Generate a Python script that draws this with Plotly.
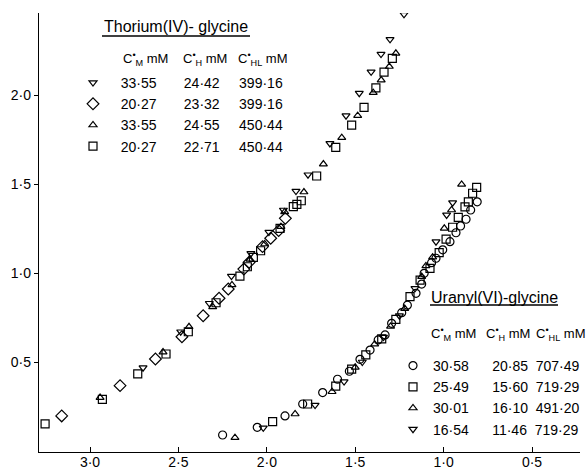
import plotly.graph_objects as go

W, H = 587, 471
ML, MR, MT, MB = 39, 7, 13, 19

# ---------------- data ----------------
# Thorium(IV)-glycine
th_tdown_x = [2.70, 2.487, 2.325, 2.20, 2.09, 1.988, 1.906, 1.835, 1.767, 1.643, 1.552, 1.477, 1.41, 1.354, 1.303, 1.224]
th_tdown_y = [0.468, 0.67, 0.83, 0.983, 1.11, 1.23, 1.354, 1.46, 1.552, 1.728, 1.884, 2.01, 2.13, 2.23, 2.313, 2.453]
th_diam_x = [3.16, 2.83, 2.63, 2.48, 2.36, 2.27, 2.218, 2.13, 2.10, 2.024, 1.978, 1.933, 1.895]
th_diam_y = [0.197, 0.367, 0.517, 0.642, 0.76, 0.858, 0.91, 1.022, 1.06, 1.148, 1.195, 1.238, 1.307]
th_tup_x = [2.943, 2.587, 2.44, 2.306, 2.197, 2.095, 2.012, 1.92, 1.899, 1.79, 1.68, 1.576, 1.486, 1.398, 1.353, 1.307, 1.27]
th_tup_y = [0.30, 0.556, 0.698, 0.81, 0.933, 1.077, 1.163, 1.26, 1.343, 1.455, 1.612, 1.76, 1.884, 2.013, 2.084, 2.16, 2.234]
th_sq_x = [3.254, 2.93, 2.73, 2.57, 2.444, 2.287, 2.152, 2.11, 2.076, 2.035, 1.925, 1.85, 1.83, 1.805, 1.718, 1.61, 1.52, 1.45, 1.383, 1.337, 1.29]
th_sq_y = [0.152, 0.29, 0.433, 0.545, 0.67, 0.833, 0.983, 1.035, 1.088, 1.125, 1.251, 1.373, 1.386, 1.406, 1.545, 1.706, 1.831, 1.93, 2.04, 2.128, 2.206]

# Uranyl(VI)-glycine
u_circ_x = [2.25, 2.054, 1.897, 1.797, 1.684, 1.60, 1.533, 1.473, 1.416, 1.37, 1.331, 1.294, 1.237, 1.205, 1.156, 1.124, 1.11, 1.068, 1.043, 1.005, 0.964, 0.93, 0.904, 0.873, 0.847, 0.81]
u_circ_y = [0.09, 0.133, 0.197, 0.264, 0.328, 0.403, 0.448, 0.515, 0.567, 0.624, 0.652, 0.717, 0.777, 0.819, 0.886, 0.938, 0.998, 1.058, 1.083, 1.13, 1.176, 1.226, 1.264, 1.302, 1.354, 1.40]
u_sq_x = [1.967, 1.769, 1.61, 1.52, 1.44, 1.35, 1.27, 1.19, 1.133, 1.077, 1.025, 0.986, 0.949, 0.917, 0.879, 0.86, 0.836, 0.813]
u_sq_y = [0.165, 0.264, 0.365, 0.46, 0.54, 0.63, 0.74, 0.867, 0.96, 1.026, 1.114, 1.19, 1.257, 1.313, 1.372, 1.40, 1.448, 1.481]
u_tup_x = [2.18, 1.84, 1.631, 1.50, 1.39, 1.30, 1.22, 1.124, 1.10, 1.062, 0.996, 0.955, 0.898]
u_tup_y = [0.075, 0.208, 0.333, 0.47, 0.60, 0.70, 0.80, 0.98, 1.04, 1.089, 1.251, 1.354, 1.498]
u_tdown_x = [2.02, 1.727, 1.563, 1.46, 1.34, 1.25, 1.162, 1.043, 0.983, 0.949]
u_tdown_y = [0.13, 0.258, 0.39, 0.50, 0.64, 0.76, 0.914, 1.176, 1.326, 1.395]

# Legend table values (C_M, C_H, C_HL in mM)
th_cm = [33.55, 20.27, 33.55, 20.27]
th_ch = [24.42, 23.32, 24.55, 22.71]
th_chl = [399.16, 399.16, 450.44, 450.44]
u_cm = [30.58, 25.49, 30.01, 16.54]
u_ch = [20.85, 15.60, 16.10, 11.46]
u_chl = [707.49, 719.29, 491.20, 719.29]

x_tick_vals = [3.0, 2.5, 2.0, 1.5, 1.0, 0.5]
x_tick_text = ["3·0", "2·5", "2·0", "1·5", "1·0", "0·5"]
y_tick_vals = [0.5, 1.0, 1.5, 2.0]
y_tick_text = ["0·5", "1·0", "1·5", "2·0"]

# ---------------- helpers ----------------
NB = "\u00a0"
FONT = "Liberation Sans, Arial, sans-serif"


def fmt(v):
    return f"{v:.2f}".replace(".", "·")


def row(cm, ch, chl, lead, g1, g2):
    return NB * lead + fmt(cm) + NB * g1 + fmt(ch) + NB * g2 + fmt(chl)


def px2paper_x(px):
    return (px - ML) / (W - ML - MR)


def px2paper_y(py):
    return (H - MB - py) / (H - MT - MB)


fig = go.Figure()

th_sets = [
    (th_tdown_x, th_tdown_y, "triangle-down-open", 7),
    (th_diam_x, th_diam_y, "diamond-open", 9),
    (th_tup_x, th_tup_y, "triangle-up-open", 7),
    (th_sq_x, th_sq_y, "square-open", 8),
]
for i, (xs, ys, sym, sz) in enumerate(th_sets):
    fig.add_trace(go.Scatter(
        x=xs, y=ys, mode="markers",
        marker=dict(symbol=sym, size=sz, color="black", line=dict(width=1.2, color="black")),
        name=row(th_cm[i], th_ch[i], th_chl[i], 2, 7, 5),
        legend="legend",
    ))

u_sets = [
    (u_circ_x, u_circ_y, "circle-open", 8),
    (u_sq_x, u_sq_y, "square-open", 8),
    (u_tup_x, u_tup_y, "triangle-up-open", 7),
    (u_tdown_x, u_tdown_y, "triangle-down-open", 7),
]
for i, (xs, ys, sym, sz) in enumerate(u_sets):
    fig.add_trace(go.Scatter(
        x=xs, y=ys, mode="markers",
        marker=dict(symbol=sym, size=sz, color="black", line=dict(width=1.2, color="black")),
        name=row(u_cm[i], u_ch[i], u_chl[i], 0, 6, 2),
        legend="legend2",
    ))

annots = []
shapes = []


def add_text(txt, px, py, size, xanchor="left"):
    annots.append(dict(text=txt, x=px2paper_x(px), y=px2paper_y(py), xref="paper", yref="paper",
                       xanchor=xanchor, yanchor="middle", showarrow=False,
                       font=dict(size=size, color="black", family=FONT)))


def add_underline(px0, px1, py):
    shapes.append(dict(type="line", xref="paper", yref="paper",
                       x0=px2paper_x(px0), x1=px2paper_x(px1), y0=px2paper_y(py), y1=px2paper_y(py),
                       line=dict(color="black", width=1.3)))


add_text("Thorium(IV)- glycine", 176, 27, 16, "center")
add_underline(102, 250, 36)
add_text("C<sup>•</sup><sub>M</sub> mM", 121, 59, 13)
add_text("C<sup>•</sup><sub>H</sub> mM", 181, 59, 13)
add_text("C<sup>•</sup><sub>HL</sub> mM", 236, 59, 13)

add_text("Uranyl(VI)-glycine", 494, 297, 16, "center")
add_underline(430, 558, 305)
add_text("C<sup>•</sup><sub>M</sub> mM", 429, 334, 13)
add_text("C<sup>•</sup><sub>H</sub> mM", 484, 334, 13)
add_text("C<sup>•</sup><sub>HL</sub> mM", 534, 334, 13)

legend_common = dict(
    xref="paper", yref="paper", xanchor="left", yanchor="top",
    bgcolor="rgba(0,0,0,0)", borderwidth=0, traceorder="normal",
    font=dict(size=14, color="black", family=FONT), itemclick=False, itemdoubleclick=False,
)

fig.update_layout(
    width=W, height=H,
    margin=dict(l=ML, r=MR, t=MT, b=MB, pad=0, autoexpand=False),
    paper_bgcolor="white", plot_bgcolor="white",
    font=dict(family=FONT, size=14, color="black"),
    showlegend=True,
    legend=dict(x=px2paper_x(73), y=px2paper_y(67), **legend_common),
    legend2=dict(x=px2paper_x(393), y=px2paper_y(350), **legend_common),
    annotations=annots,
    shapes=shapes,
    xaxis=dict(
        range=[3.0 + (90 - ML) / 176.8, 3.0 - (W - MR - 90) / 176.8],
        tickvals=x_tick_vals, ticktext=x_tick_text,
        ticks="inside", ticklen=5, tickwidth=1, tickcolor="black",
        ticklabelstandoff=-3,
        showline=True, linecolor="black", linewidth=1.3,
        showgrid=False, zeroline=False, automargin=False,
        tickfont=dict(size=14, family=FONT, color="black"),
    ),
    yaxis=dict(
        range=[2.0 - (H - MB - 95) / 178.0, 2.0 + (95 - MT) / 178.0],
        tickvals=y_tick_vals, ticktext=y_tick_text,
        ticks="outside", ticklen=4, tickwidth=1, tickcolor="black",
        showline=True, linecolor="black", linewidth=1.3,
        showgrid=False, zeroline=False, automargin=False,
        tickfont=dict(size=14, family=FONT, color="black"),
    ),
)

fig.write_html(
    "out.html",
    config={"displayModeBar": False},
    post_script="document.body.style.margin='0';document.body.style.padding='0';",
)
